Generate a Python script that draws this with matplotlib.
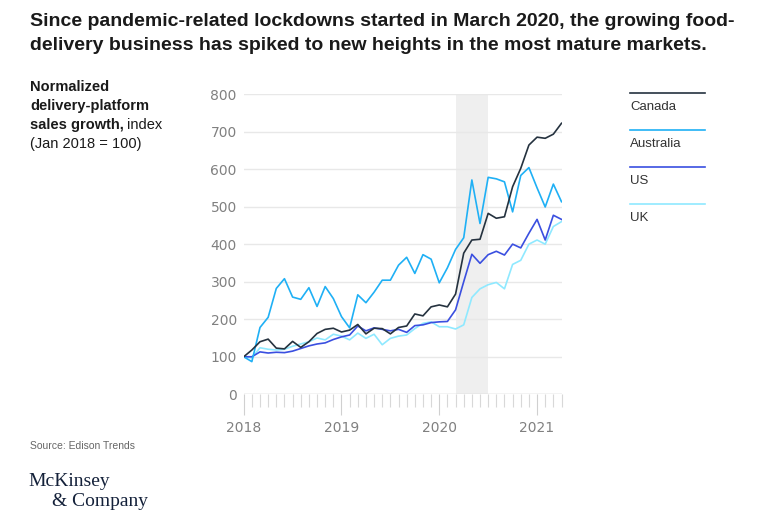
import numpy as np
import matplotlib
matplotlib.use("Agg")
import matplotlib.pyplot as plt
from matplotlib.lines import Line2D
from matplotlib.ticker import MultipleLocator

# monthly index, Jan 2018 .. Apr 2021 (Jan 2018 = 100)
months = np.arange(40)
year_labels = ["2018", "2019", "2020", "2021"]
canada = [100, 118, 140, 147, 123, 121, 141, 125, 140, 162, 173, 176, 166, 171,
          186, 161, 176, 175, 161, 178, 182, 214, 209, 233, 238, 233, 267, 376,
          411, 413, 482, 469, 473, 553, 602, 664, 685, 682, 693, 722]
australia = [100, 87, 178, 205, 282, 308, 259, 253, 284, 234, 287, 255, 207, 177,
             265, 244, 272, 304, 304, 344, 365, 322, 372, 360, 297, 337, 386, 417,
             571, 455, 578, 574, 566, 486, 583, 604, 550, 499, 560, 513]
us = [100, 100, 113, 110, 112, 111, 115, 122, 129, 134, 137, 146, 153, 158,
      182, 169, 177, 173, 169, 173, 165, 183, 185, 191, 193, 194, 225, 300,
      373, 349, 372, 381, 371, 400, 390, 429, 466, 411, 477, 466]
uk = [100, 97, 124, 120, 118, 120, 128, 134, 140, 150, 145, 160, 155, 145,
      163, 149, 160, 132, 149, 155, 158, 175, 189, 193, 180, 180, 174, 185,
      258, 281, 292, 298, 281, 346, 357, 400, 411, 400, 447, 460]
series_names = ["Canada", "Australia", "US", "UK"]
colors = ["#25323f", "#1fb0f5", "#3a4fe0", "#8fe9ff"]
lockdown = (26, 30)  # Mar 2020 .. end of Jun 2020

W, H = 762, 518
fig = plt.figure(figsize=(W / 100, H / 100), dpi=100)
ax = fig.add_axes([243.7 / W, 1 - 394.3 / H, (561.5 - 243.7) / W, (394.3 - 94) / H])

ax.axvspan(lockdown[0], lockdown[1], color="#efefef", zorder=0, lw=0)
for vals, c in zip([uk, us, australia, canada], colors[::-1]):
    ax.plot(months, vals, color=c, lw=1.2, zorder=3)

ax.set_xlim(0, 39)
ax.set_ylim(0, 800)
ax.yaxis.set_major_locator(MultipleLocator(100))
ax.grid(axis="y", color="#e8e8e8", lw=1, zorder=1)
for s in ax.spines.values():
    s.set_visible(False)
ax.axhline(0, color="#d8d8d8", lw=1, zorder=2)

ax.set_xticks([0, 12, 24, 36])
ax.set_xticklabels(year_labels)
ax.set_xticks(months, minor=True)
ax.tick_params(axis="x", which="major", length=15, width=0.8, color="#d0d0d0",
               labelsize=10, labelcolor="#808080", pad=4)
ax.tick_params(axis="x", which="minor", length=9, width=0.8, color="#d8d8d8")
ax.tick_params(axis="y", length=0, labelsize=10, labelcolor="#808080", pad=5)

# title
fig.text(30 / W, 1 - 22 / H,
         "Since pandemic-related lockdowns started in March 2020, the growing food-",
         fontsize=14, fontweight="bold", color="#1a1a1a", va="center", ha="left",
         family="Liberation Sans")
fig.text(30 / W, 1 - 46 / H,
         "delivery business has spiked to new heights in the most mature markets.",
         fontsize=14, fontweight="bold", color="#1a1a1a", va="center", ha="left",
         family="Liberation Sans")

# left axis label
lx = 30 / W
fs = 10.5
txt = dict(fontsize=fs, va="center", ha="left", color="#1a1a1a", family="Liberation Sans")
fig.text(lx, 1 - 87 / H, "Normalized", fontweight="bold", **txt)
fig.text(lx, 1 - 106 / H, "delivery-platform", fontweight="bold", **txt)
b = fig.text(lx, 1 - 125 / H, "sales growth,", fontweight="bold", **txt)
r = fig.canvas.get_renderer()
bb = b.get_window_extent(renderer=r)
fig.text(bb.x1 / W + 3 / W, 1 - 125 / H, "index", **txt)
fig.text(lx, 1 - 144 / H, "(Jan 2018 = 100)", **txt)

# legend
leg_y = [93, 130, 167, 204]
for name, c, y in zip(series_names, colors, leg_y):
    fig.add_artist(Line2D([630 / W, 705 / W], [1 - y / H, 1 - y / H], color=c, lw=1.2))
    fig.text(630 / W, 1 - (y + 14) / H, name, fontsize=9.5, color="#333333",
             va="center", ha="left", family="Liberation Sans")

fig.text(30 / W, 1 - 446 / H, "Source: Edison Trends", fontsize=7.5, color="#666666",
         va="center", ha="left", family="Liberation Sans")
fig.text(28 / W, 1 - 481 / H, "McKinsey", fontsize=14, color="#14213a",
         va="center", ha="left", family="Liberation Serif")
fig.text(52 / W, 1 - 501 / H, "& Company", fontsize=14, color="#14213a",
         va="center", ha="left", family="Liberation Serif")

fig.savefig("out.png", dpi=100)
